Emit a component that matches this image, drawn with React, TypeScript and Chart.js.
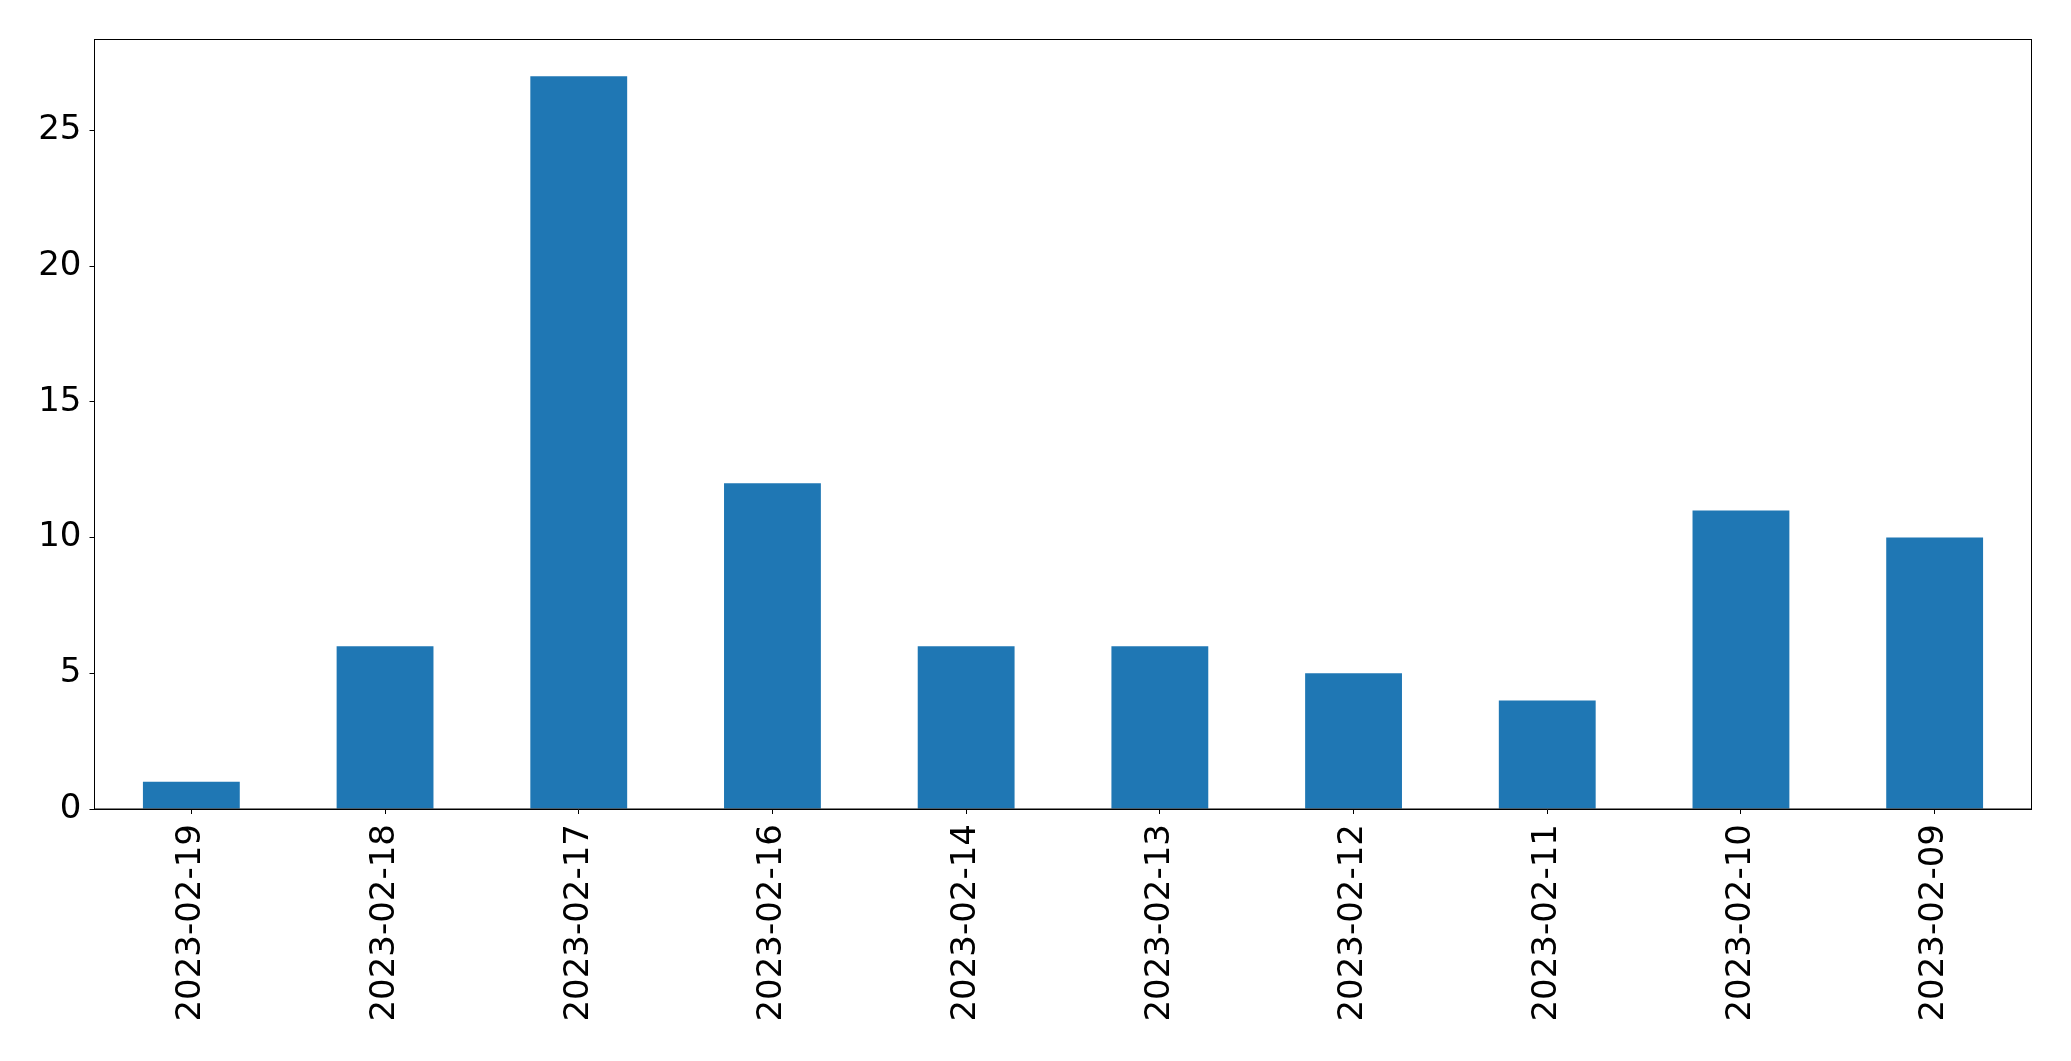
import React, { useEffect, useRef } from "react";
import { Chart, registerables } from "chart.js";

Chart.register(...registerables);

const categories = [
  "2023-02-19",
  "2023-02-18",
  "2023-02-17",
  "2023-02-16",
  "2023-02-14",
  "2023-02-13",
  "2023-02-12",
  "2023-02-11",
  "2023-02-10",
  "2023-02-09",
];
const counts = [1, 6, 27, 12, 6, 6, 5, 4, 11, 10];
const yTicks = [0, 5, 10, 15, 20, 25];

const frame = {
  id: "frame",
  afterDraw(chart: any) {
    const { ctx, chartArea } = chart;
    ctx.save();
    ctx.strokeStyle = "#000";
    ctx.lineWidth = 1;
    ctx.strokeRect(chartArea.left, chartArea.top, chartArea.right - chartArea.left, chartArea.bottom - chartArea.top);
    ctx.restore();
  },
};

export default function App() {
  const ref = useRef<HTMLCanvasElement>(null);
  useEffect(() => {
    document.body.style.margin = "0";
    document.body.style.overflow = "hidden";
    const font = { family: "'DejaVu Sans'", size: 34 };
    const maxVal = Math.max(...counts);
    const chart = new Chart(ref.current!, {
      type: "bar",
      data: {
        labels: categories,
        datasets: [
          {
            data: counts,
            backgroundColor: "#1f77b4",
            categoryPercentage: 1,
            barPercentage: 0.5,
          },
        ],
      },
      options: {
        animation: false,
        responsive: false,
        events: [],
        layout: { padding: { top: 39.5, right: 39.5, left: 0, bottom: 0 } },
        plugins: { legend: { display: false }, tooltip: { enabled: false } },
        scales: {
          x: {
            grid: { drawOnChartArea: false, drawTicks: true, tickLength: 5, color: "#000", offset: false },
            border: { display: true, color: "#000", width: 1 },
            ticks: { font, color: "#000", maxRotation: 90, minRotation: 90, padding: 10, autoSkip: false },
            afterFit(scale: any) {
              scale.height = 252;
            },
          },
          y: {
            min: 0,
            max: maxVal * 1.05,
            grid: { drawOnChartArea: false, drawTicks: true, tickLength: 5, color: "#000" },
            border: { display: true, color: "#000", width: 1 },
            ticks: { font, color: "#000", padding: 8 },
            afterBuildTicks(scale: any) {
              scale.ticks = yTicks.map((v) => ({ value: v }));
            },
            afterFit(scale: any) {
              scale.width = 94.5;
            },
          },
        },
      },
      plugins: [frame],
    });
    return () => chart.destroy();
  }, []);
  return (
    <div style={{ position: "absolute", left: 0, top: 0, width: 2071, height: 1061 }}>
      <canvas ref={ref} width={2071} height={1061} style={{ display: "block" }} />
    </div>
  );
}
